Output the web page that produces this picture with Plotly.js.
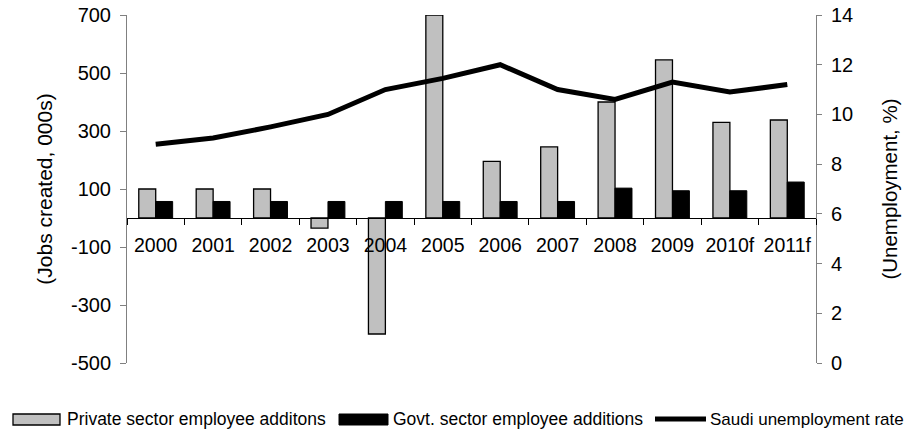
<!DOCTYPE html>
<html>
<head>
<meta charset="utf-8">
<script src="https://cdn.plot.ly/plotly-3.0.1.min.js"></script>
<style>html,body{margin:0;padding:0;background:#fff;}#chart{width:908px;height:431px;}</style>
</head>
<body>
<div id="chart"></div>
<script>
const years = ["2000","2001","2002","2003","2004","2005","2006","2007","2008","2009","2010f","2011f"];
const privateAdditions = [100, 100, 100, -35, -400, 700, 195, 245, 400, 545, 330, 338];
const govtAdditions = [57, 57, 57, 57, 57, 57, 57, 57, 103, 94, 94, 124];
const unemploymentRate = [8.8, 9.05, 9.5, 10.0, 11.0, 11.45, 12.0, 11.0, 10.6, 11.3, 10.9, 11.2];
const jobsTickVals = [-500, -300, -100, 100, 300, 500, 700];
const jobsTickText = ["-500", "-300", "-100", "100", "300", "500", "700"];
const seriesNames = ["Private sector employee additons", "Govt. sector employee additions", "Saudi unemployment rate"];

const FF = "Liberation Sans, Arial, sans-serif";
const f = (s) => ({family: FF, size: s, color: "#000"});

const traces = [
  {type: "bar", name: seriesNames[0], x: years, y: privateAdditions,
   marker: {color: "#c0c0c0", line: {color: "#000", width: 1.3}}},
  {type: "bar", name: seriesNames[1], x: years, y: govtAdditions,
   marker: {color: "#000", line: {color: "#000", width: 1}}},
  {type: "scatter", mode: "lines", name: seriesNames[2], x: years, y: unemploymentRate,
   yaxis: "y2", line: {color: "#000", width: 5}}
];

const layout = {
  width: 908, height: 431,
  margin: {l: 127, r: 92, t: 15, b: 68, autoexpand: false},
  paper_bgcolor: "#fff", plot_bgcolor: "#fff",
  font: f(20),
  barmode: "group", bargap: 0.41, bargroupgap: 0,
  showlegend: false,
  xaxis: {type: "category", anchor: "free", position: 500/1200, showline: true, linecolor: "#000", linewidth: 1,
          ticks: "outside", tickson: "boundaries", ticklen: 6, tickcolor: "#000", ticklabelstandoff: 10,
          tickangle: 0, showgrid: false, zeroline: false, tickfont: f(19.5)},
  yaxis: {range: [-500, 700], tickvals: jobsTickVals, ticktext: jobsTickText, showgrid: false, zeroline: false,
          showline: true, linecolor: "#808080", linewidth: 1, ticks: "outside", ticklen: 6, tickcolor: "#808080",
          ticklabelstandoff: 5, tickfont: f(20),
          title: {text: "(Jobs created, 000s)", font: f(21), standoff: 12}},
  yaxis2: {range: [0, 14], dtick: 2, overlaying: "y", side: "right", showgrid: false, zeroline: false,
           showline: true, linecolor: "#808080", linewidth: 1, ticks: "outside", ticklen: 5, tickcolor: "#808080",
           ticklabelstandoff: 5, tickfont: f(20),
           title: {text: "(Unemployment, %)", font: f(20.5), standoff: 30}},
  shapes: [],
  annotations: []
};

// pixel -> paper conversion (plot area x 127..816, y 15..363)
const px = (pix) => (pix - 127) / (908 - 127 - 92);
const pyy = (pix) => (431 - 68 - pix) / (431 - 15 - 68);
const legY = 419;

layout.shapes.push(
  {type: "rect", xref: "paper", yref: "paper", x0: px(13), x1: px(60), y0: pyy(425), y1: pyy(414),
   fillcolor: "#c0c0c0", line: {color: "#000", width: 1.3}},
  {type: "rect", xref: "paper", yref: "paper", x0: px(339), x1: px(388), y0: pyy(425), y1: pyy(414),
   fillcolor: "#000", line: {color: "#000", width: 1}},
  {type: "line", xref: "paper", yref: "paper", x0: px(655), x1: px(706), y0: pyy(legY), y1: pyy(legY),
   line: {color: "#000", width: 5}}
);
[[67, seriesNames[0], 17.5], [393, seriesNames[1], 17.5], [710, seriesNames[2], 17]].forEach(([x, t, s]) => {
  layout.annotations.push({xref: "paper", yref: "paper", x: px(x), y: pyy(legY), xanchor: "left", yanchor: "middle",
    text: t, showarrow: false, font: f(s), xshift: -2});
});

Plotly.newPlot("chart", traces, layout, {displayModeBar: false, staticPlot: true});
</script>
</body>
</html>
